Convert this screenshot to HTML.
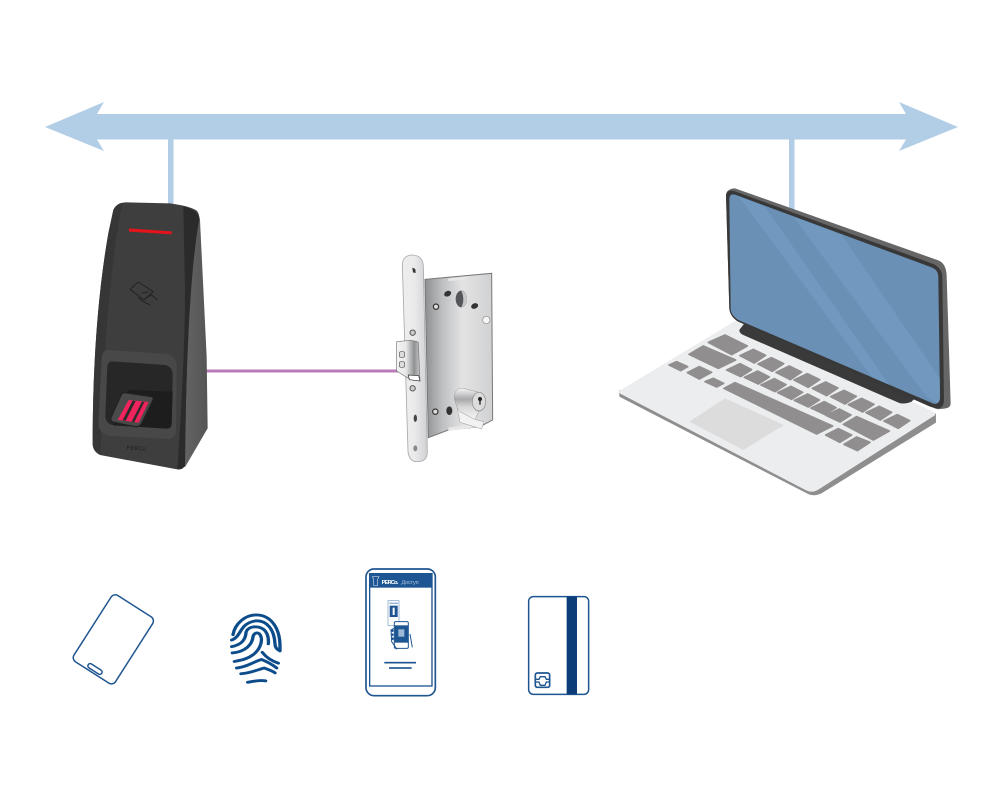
<!DOCTYPE html>
<html><head><meta charset="utf-8"><style>html,body{margin:0;padding:0;background:#fff}svg{display:block}</style></head>
<body>
<svg xmlns="http://www.w3.org/2000/svg" width="1000" height="798" viewBox="0 0 1000 798">
<defs>
<linearGradient id="lk" x1="0" x2="1" y1="0" y2="0"><stop offset="0" stop-color="#8e8f91"/><stop offset=".25" stop-color="#bdbec0"/><stop offset=".55" stop-color="#e3e3e4"/><stop offset="1" stop-color="#d0d1d2"/></linearGradient>
<linearGradient id="pl" x1="0" x2="1" y1="0" y2="0"><stop offset="0" stop-color="#eeeeef"/><stop offset=".5" stop-color="#eaeaeb"/><stop offset="1" stop-color="#cfd0d2"/></linearGradient>
<linearGradient id="lt" x1="0" x2="1" y1="0" y2="0"><stop offset="0" stop-color="#f4f4f4"/><stop offset=".4" stop-color="#e8e8e8"/><stop offset=".75" stop-color="#8f9092"/><stop offset="1" stop-color="#c9c9c9"/></linearGradient>
<linearGradient id="cy" x1="0" x2="0" y1="0" y2="1"><stop offset="0" stop-color="#f5f5f5"/><stop offset=".35" stop-color="#a8a9ab"/><stop offset=".6" stop-color="#d8d8d8"/><stop offset="1" stop-color="#f5f5f5"/></linearGradient>
<linearGradient id="rs" x1="0" x2="1" y1="0" y2="0"><stop offset="0" stop-color="#6c6c6c"/><stop offset="1" stop-color="#555"/></linearGradient>
<clipPath id="scr"><path d="M358 58Q358 40 375 44L965 262Q985 270 985 290L990 650Q990 675 970 671L385 420Q362 405 362 385Z"/></clipPath>
</defs>

<!-- bus -->
<path fill="#b2cee6" d="M45 127 104 102 97 114H906L899 102 958 127 899 151 906 139.500H97L104 151Z"/>
<rect x="168" y="139" width="5.500" height="68" fill="#b2cee6"/>
<rect x="789" y="139" width="5.500" height="75" fill="#b2cee6"/>
<!-- purple -->
<rect x="205" y="369.500" width="195" height="3" fill="#b97bb8"/>

<!-- reader -->
<g transform="translate(70 190) scale(.3333)">
<path fill="url(#rs)" d="M370 62Q388 68 390 90L410 500 413 715 345 832 300 800Z"/>
<path fill="#3e3e3e" d="M130 60Q138 40 165 37L300 40Q360 48 380 62Q390 72 387 95Q350 300 345 825Q340 840 320 838L90 795Q68 785 68 760Q68 400 115 130Z"/>
<path fill="#2b2b2b" d="M340 50Q385 58 387 90Q350 300 345 825Q340 840 322 838Q345 500 345 300Z"/>
<path fill="#363636" d="M130 60Q138 42 157 38Q105 300 92 792Q68 785 68 760Q68 400 115 130Z"/>
<path fill="#e3141c" d="M177 115 305 124V133L177 125Z"/>
<g fill="none" stroke="#222" stroke-width="3" stroke-linejoin="round"><path d="M180 298 205 276 250 305 222 330Z"/><path d="M205 322 215 332 240 345M225 325 245 315 262 330M215 310 235 305"/></g>
<path fill="#484848" d="M112 480 290 492Q320 498 320 530L318 725Q315 745 295 747L120 738Q85 730 85 700L95 505Q97 482 112 480Z"/>
<path fill="#272727" d="M125 514 285 525Q308 530 308 555L305 700Q305 716 290 716L130 706Q105 700 106 675L112 530Q114 514 125 514Z"/>
<path fill="#1d1d1d" d="M175 600 308 605 305 700Q305 716 290 716L130 706Z"/>
<path fill="#4a4a4a" stroke="#222" stroke-width="4" d="M165 608 245 620Q253 624 248 632L215 700Q208 712 195 710L130 697Q118 692 124 680L152 618Q156 606 165 608Z"/>
<path fill="#f0245c" d="M176 630 236 636 206 698 143 690Z"/>
<path fill="#2a2a2a" d="M188 632 197 633 167 692 158 691ZM216 635 223 636 193 696 185 695Z"/>
<text x="170" y="778" font-family="Liberation Sans, sans-serif" font-size="17" fill="#1f1f1f" textLength="58" transform="rotate(4 170 778)">PERCo</text>
</g>

<!-- lock -->
<g transform="translate(380 245) scale(.3333)">
<path fill="url(#lk)" stroke="#77787a" stroke-width="3" d="M135 103 335 85 338 525 300 545 205 555 145 578Z"/>
<path fill="#e8e8e8" d="M205 100 262 96V104L205 108ZM205 548 300 537 300 545 205 558Z"/>
<ellipse cx="244" cy="162" rx="17" ry="25" fill="#55565a"/><path fill="#c8c8c8" d="M244 137Q262 142 261 165 258 185 244 187 256 165 244 137Z"/>
<ellipse cx="203" cy="146" rx="11" ry="8" fill="#333" transform="rotate(-25 203 146)"/>
<ellipse cx="284" cy="183" rx="11" ry="8" fill="#333" transform="rotate(-25 284 183)"/>
<circle cx="168" cy="185" r="8" fill="#ddd" stroke="#333" stroke-width="3.500"/>
<circle cx="319" cy="225" r="11" fill="#f7f7f7" stroke="#8a8a8a" stroke-width="2"/>
<circle cx="166" cy="500" r="8" fill="#ddd" stroke="#333" stroke-width="3.500"/>
<ellipse cx="208" cy="497" rx="9" ry="13" fill="#333"/>
<path fill="#f2f2f2" stroke="#999" stroke-width="1.500" d="M232 490 290 525 312 530 305 552 240 532Z"/>
<path fill="url(#cy)" stroke="#999" stroke-width="1.500" d="M223 462Q222 428 250 430L297 442 297 498 285 524 240 500Q230 490 223 462Z"/>
<ellipse cx="297" cy="470" rx="20" ry="28" fill="#dcdcdc" stroke="#888" stroke-width="2"/>
<circle cx="300" cy="462" r="6" fill="#222"/><rect x="298" y="462" width="4" height="17" fill="#222"/>
<path fill="url(#pl)" stroke="#a8a9ab" stroke-width="2.500" d="M67 60Q68 30 98 30 128 32 130 62L142 620Q142 652 110 650 88 650 84 620Z"/>
<path fill="#333" d="M97 68 106 72 107 84 99 82Z"/>
<ellipse cx="106" cy="520" rx="5" ry="11" fill="#444"/>
<ellipse cx="106" cy="610" rx="6" ry="9" fill="#888"/>
<circle cx="98" cy="263" r="8" fill="#ccc" stroke="#555" stroke-width="3"/>
<circle cx="98" cy="430" r="8" fill="#ccc" stroke="#555" stroke-width="3"/>
<path fill="url(#lt)" stroke="#777" stroke-width="2" d="M50 290 80 287Q100 285 115 292L120 408 85 400 50 378Z"/>
<path fill="#fff" stroke="#333" stroke-width="2" d="M85 390 116 392 120 408 88 404Z"/>
<rect x="58" y="320" width="16" height="17" rx="5" fill="#ddd" stroke="#555" stroke-width="2"/>
<rect x="58" y="350" width="16" height="17" rx="5" fill="#ddd" stroke="#555" stroke-width="2"/>
</g>

<!-- laptop -->
<g transform="translate(610 180) scale(.3333)">
<path fill="#8e8e8e" d="M28 630V650L590 940Q610 952 635 940L978 728V700L600 900Z"/>
<path fill="#ecedef" stroke="#ecedef" stroke-width="12" stroke-linejoin="round" d="M34 636 385 424 970 702 620 925Q605 933 590 925Z"/>
<path fill="#3a3a3a" d="M388 450 405 428 915 655 905 665Q890 672 870 670L400 465Q388 460 388 450Z"/>
<path fill="#666" d="M348 45Q350 26 375 25L985 241Q1008 250 1010 285L1022 670Q1022 685 1002 686L985 688Q965 685 950 670L385 425Q360 410 358 385Z"/>
<path fill="#383838" d="M348 45Q350 28 372 33L965 250Q992 260 997 285L1002 660Q1002 684 982 686L960 680 385 425Q360 410 358 385Z"/>
<path fill="#6a90b5" d="M358 58Q358 40 375 44L965 262Q985 270 985 290L990 650Q990 675 970 671L385 420Q362 405 362 385Z"/>
<g clip-path="url(#scr)" fill="#7199c0"><path d="M385 48 465 80 855 640 800 610ZM550 110 695 165 1000 610V680L950 650Z"/></g>
</g>
<g transform="translate(660 325) scale(.3333)">
<path fill="#dcdcdc" d="M195 220 372 300 250 375 88 290Z"/>
<g fill="#908e8e" stroke="#908e8e" stroke-width="5" stroke-linejoin="round">
<path d="M195 30 262 63 215 89 145 52ZM130 63 227 105 175 130 87 88Z"/>
<path d="M280 73 317 91 283 114 240 92ZM334 98 371 116 337 139 294 117ZM388 123 425 141 391 164 348 142ZM442 146 479 164 445 187 402 165ZM497 171 534 189 500 212 457 190ZM552 196 589 214 555 237 512 215ZM605 220 642 238 608 261 565 239ZM658 244 695 262 661 285 618 263ZM712 269 749 287 715 310 672 288Z"/>
<path d="M240 116 275 134 242 155 200 135ZM293 138 328 156 295 177 253 157ZM343 161 378 179 345 200 303 180ZM393 184 428 202 395 223 353 203ZM443 207 478 225 445 246 403 226ZM493 230 528 248 495 269 453 249ZM538 252 573 270 540 291 498 271Z"/>
<path d="M590 275 688 318 640 345 550 298ZM225 173 518 303 470 327 192 190Z"/>
<path d="M535 311 575 330 540 352 497 330ZM590 336 630 352 592 377 552 358Z"/>
<path d="M50 110 83 125 62 137 27 120ZM118 125 155 142 118 162 82 143ZM160 160 191 175 170 186 135 170Z"/>
</g>
</g>

<!-- card -->
<g transform="translate(60 560) scale(.3333)" fill="none" stroke="#1f5590">
<rect x="86" y="120" width="148" height="236" rx="15" stroke-width="4.500" transform="rotate(32.600 160 238)"/>
<rect x="81" y="320" width="48" height="14" rx="7" stroke-width="4.500" transform="rotate(32.600 105 327)"/>
</g>

<!-- fingerprint -->
<g transform="translate(225 612.400) scale(.3333 .2853)" fill="none" stroke="#0d4c8b" stroke-width="10" stroke-linecap="round">
<path d="M24 78C30 40 60 8 95 9 135 10 164 50 165 115V133"/>
<path d="M20 97C50 85 42 40 90 30 125 26 148 60 150 110 150 122 155 130 165 135"/>
<path d="M20 120C55 112 62 90 63 70 68 52 85 48 102 52 125 58 132 85 130 110"/>
<path d="M22 142C62 138 82 112 84 85 86 74 96 68 103 75 115 90 110 125 85 148 65 165 45 168 28 172"/>
<path d="M112 140C125 160 145 172 160 178"/>
<path d="M35 195C70 190 90 170 110 165 130 175 145 185 155 195"/>
<path d="M48 215C80 212 105 198 118 195 130 200 145 207 150 212"/>
<path d="M68 245C85 242 105 236 122 240"/>
</g>

<!-- phone -->
<g transform="translate(355 560) scale(.3333)">
<rect x="33" y="27" width="208" height="380" rx="24" fill="#fff" stroke="#1f5590" stroke-width="5"/>
<rect x="44" y="41" width="187" height="337" fill="#fff" stroke="#1f5590" stroke-width="4"/>
<rect x="44" y="41" width="187" height="42" fill="#1e5593"/>
<path d="M52 50H72L68 58V76H56V58Z" fill="none" stroke="#c8d8ea" stroke-width="2"/>
<text x="80" y="72" font-family="Liberation Sans, sans-serif" font-size="17" font-weight="bold" fill="#fff" textLength="50">PERCo.</text>
<text x="139" y="72" font-family="Liberation Sans, sans-serif" font-size="17" fill="#a9c2dc" textLength="52">Доступ</text>
<rect x="99" y="122" width="33" height="75" fill="#fff" stroke="#8db0d2" stroke-width="2.500"/>
<rect x="103" y="128" width="26" height="4" fill="#8db0d2"/>
<rect x="104" y="137" width="24" height="34" fill="#1e5593"/>
<rect x="113" y="143" width="6" height="22" fill="#fff"/>
<rect x="118" y="185" width="42" height="80" rx="4" fill="#fff" stroke="#1f5590" stroke-width="3"/>
<rect x="119" y="196" width="40" height="52" fill="#1e5593"/>
<rect x="130" y="208" width="18" height="22" fill="#9db9d6"/>
<path d="M117 205 108 210 110 245 126 268M165 222 172 262" fill="none" stroke="#1f5590" stroke-width="3"/>
<g fill="#1f5590"><circle cx="112" cy="212" r="4"/><circle cx="112" cy="224" r="4"/><circle cx="113" cy="236" r="4"/></g>
<rect x="88" y="305.500" width="95" height="5" fill="#1f5590"/>
<rect x="102" y="321.500" width="68" height="5" fill="#1f5590"/>
</g>

<!-- mag card -->
<g transform="translate(355 560) scale(.3333)">
<rect x="521" y="110" width="180" height="293" rx="14" fill="#fff" stroke="#1f5590" stroke-width="4.500"/>
<rect x="635" y="110" width="31" height="293" fill="#0c3d78"/>
<rect x="541" y="339" width="43" height="43" rx="6" fill="none" stroke="#1f5590" stroke-width="5"/>
<path d="M541 358H552L556 350H570L574 358H584M541 366H552L556 376H570L574 366H584" fill="none" stroke="#1f5590" stroke-width="4"/>
</g>
</svg>
</body></html>
